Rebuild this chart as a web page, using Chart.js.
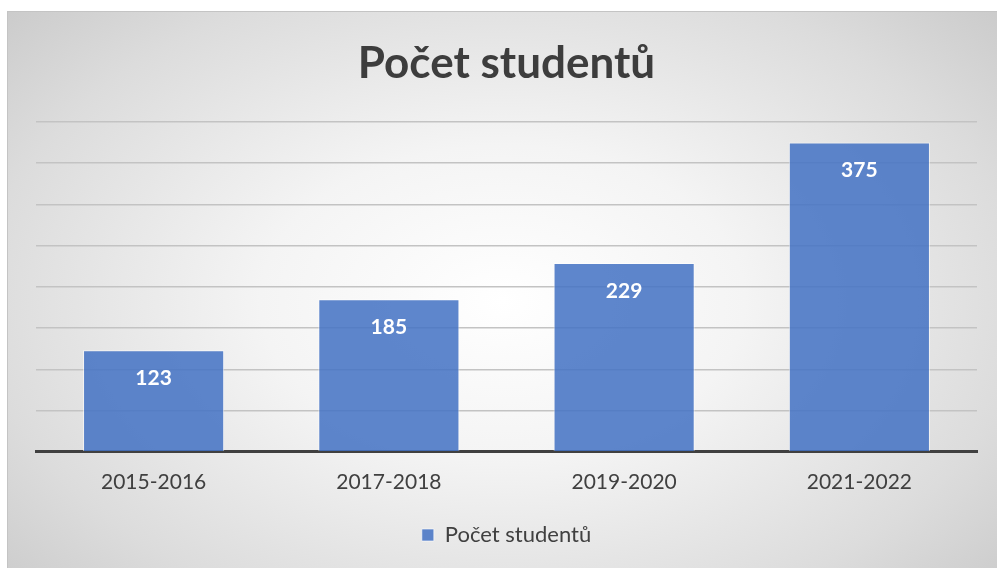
<!DOCTYPE html>
<html>
<head>
<meta charset="utf-8">
<script src="https://cdn.jsdelivr.net/npm/chart.js@4"></script>
<style>
  html, body { margin: 0; padding: 0; background: #fff; }
  #frame {
    position: absolute; left: 7px; top: 11px; width: 990px; height: 557px;
    background: radial-gradient(ellipse 70% 80% at 50% 52%, #ffffff 0%, #f4f4f4 35%, #dcdcdc 75%, #c9c9c9 100%);
    border-top: 1px solid #c4c4c4; border-left: 1px solid #c4c4c4;
    box-sizing: border-box;
  }
</style>
</head>
<body>
<div id="frame"><canvas id="chart" width="989" height="556"></canvas></div>
<script>
// kategorie a hodnoty
const years = ["2015-2016", "2017-2018", "2019-2020", "2021-2022"];
const students = [123, 185, 229, 375];
const seriesName = "Počet studentů";

// popisky hodnot uvnitř sloupců
const valueLabels = {
  id: "valueLabels",
  afterDatasetsDraw(chart) {
    const ctx = chart.ctx;
    const meta = chart.getDatasetMeta(0);
    ctx.save();
    ctx.font = "bold 21px Lato";
    ctx.fillStyle = "#ffffff";
    ctx.textAlign = "center";
    ctx.textBaseline = "middle";
    meta.data.forEach(function (bar, i) {
      ctx.fillText(students[i], bar.x, bar.y + 28);
    });
    ctx.restore();
  }
};

new Chart(document.getElementById("chart").getContext("2d"), {
  type: "bar",
  data: {
    labels: years,
    datasets: [{
      label: seriesName,
      data: students,
      backgroundColor: "rgba(68,114,196,0.86)",
      borderColor: "rgba(255,255,255,0.6)",
      borderWidth: 1,
      barPercentage: 0.6,
      categoryPercentage: 1
    }]
  },
  options: {
    responsive: false,
    animation: false,
    layout: { padding: { left: 28, right: 20, top: 0, bottom: 12 } },
    plugins: {
      title: {
        display: true,
        text: seriesName,
        color: "#3d3d3d",
        font: { family: "Lato", size: 44, weight: "bold" },
        padding: { top: 25, bottom: 32 }
      },
      legend: {
        position: "bottom",
        labels: {
          color: "#404040",
          font: { family: "Lato", size: 22 },
          boxWidth: 12,
          boxHeight: 12,
          padding: 19
        }
      },
      tooltip: { enabled: false }
    },
    scales: {
      x: {
        grid: { display: false },
        border: { color: "#404040", width: 3 },
        ticks: { color: "#404040", font: { family: "Lato", size: 21 }, padding: 10 }
      },
      y: {
        min: 0,
        max: 400,
        ticks: { display: false, stepSize: 50 },
        border: { display: false },
        grid: { color: "#c3c3c3", lineWidth: 1.5, drawTicks: false }
      }
    }
  },
  plugins: [valueLabels]
});
</script>
</body>
</html>
